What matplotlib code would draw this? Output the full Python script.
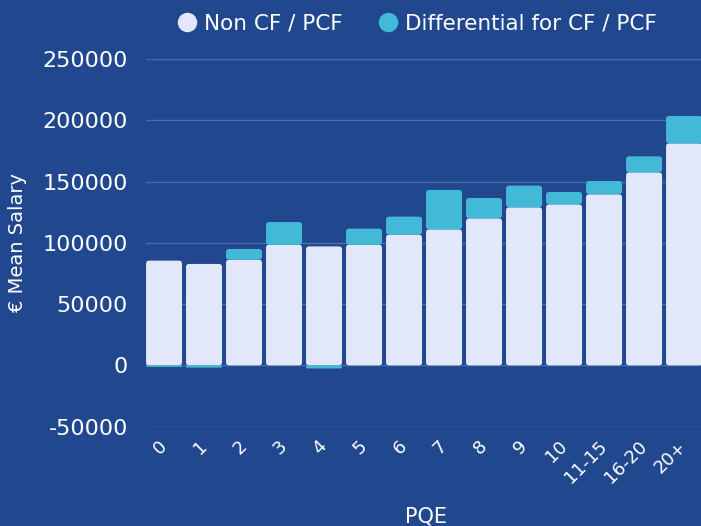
import numpy as np
import matplotlib.pyplot as plt
from matplotlib.patches import FancyBboxPatch
from matplotlib.lines import Line2D

# Data
pqe = ["0", "1", "2", "3", "4", "5", "6", "7", "8", "9", "10", "11-15", "16-20", "20+"]
non_cf = [85500, 82800, 86300, 98500, 97100, 98500, 106700, 111000, 120000, 129000, 131400, 139600, 157500, 181200]
differential = [-1200, -1800, 8700, 18500, -2500, 13100, 14700, 32200, 16600, 17700, 10100, 10900, 13100, 22300]

bg = "#21488f"
white_bar = "#e2e7fb"
cyan_bar = "#42b9d7"
grid_col = "#4b6ca8"

plt.rcParams["font.family"] = ["DejaVu Sans"]
plt.rcParams["axes.unicode_minus"] = False

fig = plt.figure(figsize=(7.01, 5.26), dpi=100, facecolor=bg)
ax = fig.add_axes([0.2083, 0.1888, 0.7989, 0.699], facecolor=bg)

x = np.arange(len(pqe))
non_cf = np.array(non_cf)
differential = np.array(differential)
# negative differentials stack down from zero, positive ones on top of the base bar
diff_bottom = np.where(differential >= 0, non_cf, 0)

bars1 = ax.bar(x, non_cf, width=0.9, color=white_bar, zorder=3)
bars2 = ax.bar(x, differential, width=0.9, bottom=diff_bottom, color=cyan_bar, zorder=3)

ax.set_xlim(-0.45, 13.55)
ax.set_ylim(-50000, 250000)

# round the bar corners a little (aspect ratio so the rounding looks circular)
px_per_x = 40.0
px_per_y = 61.25 / 50000
aspect = px_per_x / px_per_y
for rect in list(bars1) + list(bars2):
    x0, y0 = rect.get_x(), rect.get_y()
    w, h = rect.get_width(), rect.get_height()
    if h < 0:
        y0, h = y0 + h, -h
    r = min(0.08, h / aspect / 2)
    fb = FancyBboxPatch((x0, y0), w, h,
                        boxstyle=f"round,pad=0,rounding_size={r}",
                        mutation_aspect=aspect,
                        facecolor=rect.get_facecolor(), edgecolor="none", zorder=3)
    rect.remove()
    ax.add_patch(fb)

# grid and axes styling
ax.set_yticks(np.arange(-50000, 250001, 50000))
ax.grid(axis="y", color=grid_col, linewidth=1, zorder=0)
for s in ax.spines.values():
    s.set_visible(False)
ax.tick_params(axis="y", length=0, pad=13, labelsize=16, labelcolor="white")
ax.tick_params(axis="x", length=0, pad=12, labelsize=13, labelcolor="white")
ax.set_xticks(x)
ax.set_xticklabels(pqe, rotation=45, ha="right", rotation_mode="anchor", va="center")

ax.set_ylabel("€ Mean Salary", color="white", fontsize=14)
ax.yaxis.set_label_coords(-0.2125, 0.5)
ax.set_xlabel("PQE", color="white", fontsize=15)
ax.xaxis.set_label_coords(0.5, -0.2456)
ax.xaxis.label.set_va("center")

# legend with round markers
handles = [
    Line2D([], [], marker="o", linestyle="none", markersize=14, markerfacecolor=white_bar, markeredgecolor="none"),
    Line2D([], [], marker="o", linestyle="none", markersize=14, markerfacecolor=cyan_bar, markeredgecolor="none"),
]
fig.legend(handles, ["Non CF / PCF", "Differential for CF / PCF"], loc="center",
           bbox_to_anchor=(0.594, 0.956), ncol=2, frameon=False, fontsize=15.5,
           labelcolor="white", handletextpad=0.3, columnspacing=1.6, handlelength=1.0)

plt.savefig("out.png", dpi=100, facecolor=bg)
